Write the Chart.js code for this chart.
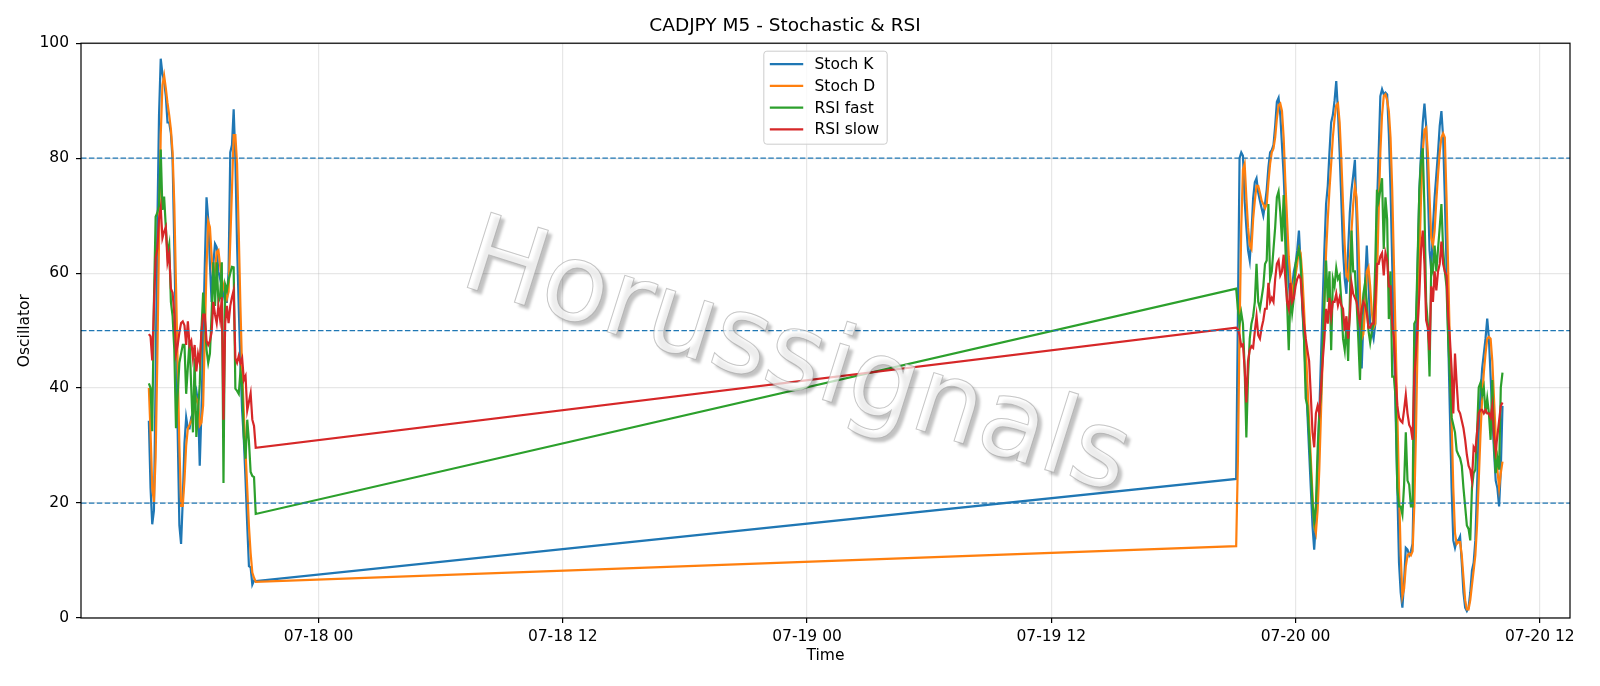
<!DOCTYPE html>
<html lang="en">
<head>
<meta charset="UTF-8">
<title>CADJPY M5 - Stochastic &amp; RSI</title>
<script src="https://cdn.jsdelivr.net/npm/chart.js@4.4.1/dist/chart.umd.min.js"></script>
<style>
  html, body { margin: 0; padding: 0; background: #fff; }
  #wrap { width: 1600px; height: 686px; }
</style>
</head>
<body>
<div id="wrap"><canvas id="chart"></canvas></div>
<script>
// time origin for the linear x axis: 07-18 00:00, x is in hours from here
const ORIGIN = Date.UTC(2025, 6, 18)
const HOUR = 3600000
const BAR_MIN = 5

const sessionStarts = ['2025-07-17T15:40:00Z', '2025-07-19T21:05:00Z']
const xTickTimes = ['2025-07-18T00:00:00Z', '2025-07-18T12:00:00Z', '2025-07-19T00:00:00Z',
  '2025-07-19T12:00:00Z', '2025-07-20T00:00:00Z', '2025-07-20T12:00:00Z']
const xRange = ['2025-07-17T12:20:00Z', '2025-07-20T13:29:00Z']
const yTicks = [0, 20, 40, 60, 80, 100]
const levels = [20, 50, 80]
const watermark = 'Horussignals'

// session 1 (07-17 15:40 .. 20:55)
const stochK1 = [34.3, 22.6, 16.3, 18.7, 42, 68, 87.5, 97.3, 94.7, 93.4, 90.8, 86.2, 86.2, 84.3, 79.7, 64.8,
  48.6, 32.3, 16.1, 12.9, 20.6, 30.4, 34.9, 33, 33, 34.9, 35.6, 38.2, 39.5, 37.5, 26.5, 36,
  48.6, 61.6, 73.2, 69.4, 61.6, 55, 61.6, 65.1, 64.5, 60.3, 59, 57.7, 56.4, 55, 55, 60.3,
  81, 82.3, 88.5, 80, 65, 54, 44, 36, 31, 24, 16.1, 9, 8.8, 5.8, 6.5, 6.4]
const stochD1 = [40, 32.3, 22.6, 20.2, 28, 45, 66, 84, 92.7, 94.4, 92.2, 89.6, 87.5, 85, 81, 72,
  58, 44, 30, 19.5, 19.5, 24, 30, 33, 33.6, 34.3, 35.2, 36.9, 38.2, 37.5, 33.5, 34,
  37, 49, 61, 69, 68, 63, 59, 60.5, 63.7, 64, 61.3, 59, 57.7, 56.4, 55.5, 56.8,
  65.5, 74.5, 84, 84, 79, 67, 54, 43, 35.6, 29, 22.6, 16, 11.3, 7.9, 7, 6.3]
const rsiFast1 = [40.8, 40, 32.5, 55, 69.8, 70.5, 71.7, 81.5, 71, 73.3, 68, 63.4, 65, 55, 52.5, 46.7,
  33, 39, 44.4, 46, 47.5, 47.5, 39, 43.7, 48.2, 40, 32.3, 45.2, 31.5, 36, 40.6, 50,
  56.6, 52, 46.7, 44.4, 46, 52.8, 61.9, 54.3, 61.9, 55, 55.8, 61.9, 23.5, 58, 57, 58.8,
  60, 61.1, 61, 39.9, 39.5, 39, 42.9, 40.6, 31.5, 27.7, 34.5, 30.8, 25.4, 24.7, 24.5, 18.1]
const rsiSlow1 = [49.4, 49, 44.8, 54.3, 62.6, 64.2, 69.5, 71.4, 66.1, 67.2, 68, 61.9, 63.4, 57.3, 56.6, 52.8,
  46, 47.5, 49.7, 51.3, 51.6, 50.9, 47.5, 51.6, 47.5, 48.2, 45.2, 47.5, 42.9, 45.9, 44.4, 49.7,
  52.8, 52.8, 48.2, 47.5, 48.2, 49.7, 55, 52.8, 51.3, 54.3, 52, 55.8, 34.5, 51.3, 54.3, 51.3,
  54.3, 55.8, 57, 45.2, 44.4, 45.6, 44.4, 45.2, 41.4, 42.1, 36.1, 37.6, 39.1, 34.5, 33.4, 29.6]

// session 2 (07-19 21:05 .. 07-20 10:10)
const stochK2 = [24.2, 52, 80, 81, 80.4, 72.6, 68, 64, 62.2, 66.8, 73, 75.8, 76.5, 74, 72.6, 71.3,
  70, 72, 74.5, 78.4, 81, 81.4, 82.3, 85.6, 89.8, 90.5, 87.5, 82.3, 77, 69.4, 64, 58.3,
  55, 57.7, 60.3, 61.6, 64, 67.4, 61.6, 53.8, 48.6, 42, 35.6, 29, 22.6, 16, 11.9, 16.8,
  25.8, 35.6, 45.3, 55, 64, 72, 75.2, 81, 86.2, 87.5, 90, 93.4, 88.2, 81, 72.6, 64,
  59, 56.4, 64, 70.6, 74.5, 77, 79.7, 69.4, 55, 47.3, 43.4, 51.8, 58.3, 64.8, 58.3, 51.2,
  49.9, 48.6, 51.2, 71.3, 81, 90.8, 92, 91.1, 91.4, 91.1, 84.3, 74.5, 61.6, 48.6, 35.6, 22.6,
  9.6, 4.4, 1.8, 6.4, 12.2, 11.9, 10.9, 11.6, 12.9, 29, 48.6, 61.6, 74.5, 81, 86.2, 89.5,
  85.6, 74.5, 64, 60.3, 68, 73.2, 77.1, 81, 85.6, 88.2, 83.6, 73.2, 61.6, 48.6, 35.6, 22.6,
  13.5, 12.2, 13.5, 13.5, 14.2, 9.6, 4.4, 1.8, 1.2, 1.8, 4.4, 8.3, 9.6, 13.5, 22.6, 32.3,
  38.8, 43.4, 46, 48.6, 52.1, 48.6, 42, 35.6, 29, 23.9, 22.6, 19.4, 25.8, 36.9]
const stochD2 = [12.5, 27, 50, 68, 78, 79, 73.2, 68, 64.8, 64.2, 69.4, 72.6, 75.2, 75.2, 74, 72.6,
  72, 71.3, 72, 75.8, 79, 81, 81.7, 83.6, 86.9, 89.2, 89.5, 88.2, 83.6, 75.8, 69.4, 62.9,
  59, 56.4, 58.3, 59.6, 61.6, 64.2, 63.5, 59.6, 53.8, 47.3, 40.8, 34.3, 27.8, 21.3, 16.1, 14.8,
  18.7, 25.8, 35.6, 45.3, 55, 63.5, 69.4, 74.5, 79, 83.6, 86.9, 89.2, 89.5, 86.2, 79.7, 72,
  64.8, 59.6, 59, 62.2, 67.4, 72, 75.2, 73.2, 66.1, 56.4, 48.6, 49.4, 53.8, 60.3, 61, 57.7,
  53.1, 50.5, 51.2, 59, 70.6, 81, 87.5, 90.8, 91.1, 90.1, 88.2, 83.6, 74.5, 61.6, 48.6, 35.6,
  22.6, 10.9, 3.8, 5.1, 9, 10.9, 11.2, 10.9, 11.6, 19.4, 32.3, 48.6, 62.9, 73.2, 81, 84.9,
  85.3, 81, 73.2, 66.1, 64.8, 67.4, 72.6, 77.1, 81, 83.6, 84.3, 83.6, 73.2, 60.3, 47.3, 34.3,
  22.6, 14.8, 12.9, 13.2, 13.2, 10.9, 7, 3.1, 1.5, 1.5, 3.1, 5.7, 8.3, 10.9, 16.1, 23.9,
  31.7, 38.2, 42.7, 46, 48.6, 48.9, 48.6, 44.7, 38.2, 31.7, 25.8, 22.6, 25.2, 27.2]
const rsiFast2 = [57.3, 53.8, 51.2, 53.1, 51.2, 43.4, 31.4, 42, 48.6, 51.2, 52.5, 55, 61.6, 55, 53.8, 55.7,
  57.7, 61.6, 62.2, 72, 59, 60.3, 64.2, 68, 73.2, 74.2, 70.6, 65.5, 73.6, 64.8, 55, 46.6,
  56.4, 53.1, 55.7, 61.6, 62.9, 64.2, 62.2, 55, 48.6, 38.2, 36.9, 31.7, 25.8, 20, 16.8, 19.4,
  29.1, 35.6, 38.8, 47.3, 55, 62.2, 55, 60.3, 46.6, 59, 57.7, 60.9, 59, 59.6, 55, 48.6,
  46.6, 51.2, 44.7, 55, 67.4, 60.3, 60.3, 55, 48.6, 41.4, 52.5, 56.4, 58.3, 55, 50, 47.9,
  49.9, 51.2, 61.6, 74.5, 72.6, 74.5, 76.5, 64.2, 73.2, 69.4, 52, 60.3, 42, 42, 38.2, 22.6,
  19.4, 19.4, 18, 23.2, 32.3, 23.9, 23.2, 19.4, 19.4, 51.2, 51.8, 62.9, 74.5, 79.7, 81.7, 71.3,
  55, 51.2, 42, 61.6, 60.3, 64.8, 60.3, 64.2, 68, 72, 64.2, 60.3, 57.7, 48.6, 42, 34.9,
  33.6, 32.3, 29.1, 28.4, 27.8, 26.5, 22.6, 19.4, 16.1, 15.5, 13.5, 22.6, 25.2, 25.8, 32.3, 40.1,
  40.9, 38.8, 40.1, 35.6, 38.2, 35.6, 31, 41.4, 30.4, 25.2, 27.8, 25.8, 40.1, 42.7]
const rsiSlow2 = [50.5, 50.2, 49.2, 47.3, 47.6, 43.4, 37.5, 44.7, 46.6, 47.3, 47, 49.9, 52.5, 49.2, 48.6, 50.5,
  51.8, 53.8, 53.8, 58.3, 55, 55.7, 55, 59, 61.6, 62.2, 59.6, 60.3, 63.2, 59, 55, 53.8,
  58.3, 55, 55.7, 57.7, 59, 59.6, 59, 55, 51.2, 48.6, 46.6, 44.7, 38.8, 32.3, 29.7, 35.6,
  36.9, 35.6, 40.1, 44.7, 48.6, 53.8, 51.2, 55.7, 52.5, 55, 55, 56.4, 54.4, 55.7, 54.4, 53.8,
  49.9, 52.5, 48.6, 52.5, 58.3, 56.4, 55.7, 55, 53.1, 51.2, 53.8, 55, 54.4, 53.1, 50.5, 50.5,
  51.2, 51.2, 55, 61.6, 61.6, 62.9, 63.5, 59.6, 63.5, 62.2, 57.7, 57.7, 51.2, 48.6, 42, 36.9,
  34.9, 34.3, 34, 36.2, 38.8, 35.6, 33.6, 33, 31, 42, 46, 51.2, 56.4, 64.2, 67.4, 61.6,
  51.8, 50.5, 46.6, 57.7, 55, 60.3, 57, 60.3, 61.6, 65.5, 61.6, 60.3, 59.6, 52.5, 48.6, 43.4,
  35.6, 46, 40.8, 36.2, 35.6, 34.3, 33, 31, 28.4, 26.5, 25.8, 23.9, 29.7, 29.1, 32.3, 35.6,
  36.2, 36.2, 35.6, 36.2, 35.6, 35.6, 34.9, 36.9, 31.7, 29.1, 31.7, 34.3, 36.9, 37.5]

const hoursOf = s => (Date.parse(s) - ORIGIN) / HOUR

// bar times of each session, one bar every 5 minutes
function barTimes(start, n) {
  const t0 = hoursOf(start)
  const out = []
  for (let i = 0; i < n; i++) out.push(t0 + i * BAR_MIN / 60)
  return out
}
const times = barTimes(sessionStarts[0], stochK1.length).concat(barTimes(sessionStarts[1], stochK2.length))

const toPoints = vals => vals.map((v, i) => ({ x: times[i], y: v }))

function fmtTick(v) {
  const d = new Date(ORIGIN + v * HOUR)
  const p = n => String(n).padStart(2, '0')
  return `${p(d.getUTCMonth() + 1)}-${p(d.getUTCDate())} ${p(d.getUTCHours())}`
}

const xMin = hoursOf(xRange[0])
const xMax = hoursOf(xRange[1])

const series = [
  { label: 'Stoch K', color: '#1f77b4', vals: stochK1.concat(stochK2), order: 4 },
  { label: 'Stoch D', color: '#ff7f0e', vals: stochD1.concat(stochD2), order: 3 },
  { label: 'RSI fast', color: '#2ca02c', vals: rsiFast1.concat(rsiFast2), order: 2 },
  { label: 'RSI slow', color: '#d62728', vals: rsiSlow1.concat(rsiSlow2), order: 1 },
]

const datasets = series.map(s => ({
  label: s.label,
  data: toPoints(s.vals),
  borderColor: s.color,
  borderWidth: 2.2,
  pointRadius: 0,
  tension: 0,
  order: s.order
}))
levels.forEach(l => datasets.push({
  label: 'level ' + l,
  data: [{ x: xMin, y: l }, { x: xMax, y: l }],
  borderColor: '#1f77b4',
  borderWidth: 1.3,
  borderDash: [5.5, 2.4],
  pointRadius: 0,
  order: 0
}))

// watermark over the lines, slanted down to the right
const stamp = {
  id: 'stamp',
  afterDatasetsDraw(chart) {
    const { ctx, chartArea: a } = chart
    ctx.save()
    ctx.translate(a.left + 0.48 * (a.right - a.left), a.top + 0.554 * (a.bottom - a.top))
    ctx.rotate(17.5 * Math.PI / 180)
    ctx.font = '108px "DejaVu Sans"'
    ctx.textAlign = 'center'
    ctx.textBaseline = 'middle'
    ctx.shadowColor = 'rgba(0,0,0,0.35)'
    ctx.shadowOffsetX = 4
    ctx.shadowOffsetY = 4
    ctx.shadowBlur = 3
    ctx.fillStyle = 'rgba(255,255,255,0.7)'
    ctx.fillText(watermark, 0, 0)
    ctx.shadowColor = 'transparent'
    ctx.strokeStyle = 'rgba(160,160,160,0.6)'
    ctx.lineWidth = 1
    ctx.strokeText(watermark, 0, 0)
    ctx.restore()
  }
}

// all four spines like matplotlib
const frame = {
  id: 'frame',
  afterDatasetsDraw(chart) {
    const { ctx, chartArea: a } = chart
    ctx.save()
    ctx.strokeStyle = '#000'
    ctx.lineWidth = 1.2
    ctx.strokeRect(a.left, a.top, a.right - a.left, a.bottom - a.top)
    ctx.restore()
  }
}

// legend box, upper center inside the axes
const legendBox = {
  id: 'legendBox',
  afterDraw(chart) {
    const { ctx, chartArea: a } = chart
    ctx.save()
    ctx.font = '15.5px "DejaVu Sans"'
    const textW = Math.max(...series.map(s => ctx.measureText(s.label).width))
    const rowH = 21.7
    const w = 50.7 + textW + 8
    const h = 93
    const x0 = (a.left + a.right) / 2 - w / 2
    const y0 = a.top + 8
    ctx.beginPath()
    ctx.roundRect(x0, y0, w, h, 3)
    ctx.fillStyle = 'rgba(255,255,255,0.8)'
    ctx.fill()
    ctx.strokeStyle = '#cccccc'
    ctx.lineWidth = 1
    ctx.stroke()
    ctx.textBaseline = 'middle'
    series.forEach((s, i) => {
      const y = y0 + 13 + i * rowH
      ctx.strokeStyle = s.color
      ctx.lineWidth = 2.2
      ctx.beginPath()
      ctx.moveTo(x0 + 6, y)
      ctx.lineTo(x0 + 39.4, y)
      ctx.stroke()
      ctx.fillStyle = '#000'
      ctx.fillText(s.label, x0 + 50.7, y + 1)
    })
    ctx.restore()
  }
}

Chart.defaults.font.family = "'DejaVu Sans', sans-serif"
Chart.defaults.color = '#000'

new Chart(document.getElementById('chart'), {
  type: 'line',
  data: { datasets },
  plugins: [stamp, frame, legendBox],
  options: {
    responsive: true,
    maintainAspectRatio: false,
    devicePixelRatio: 1,
    animation: false,
    layout: { padding: { top: 0, right: 30, bottom: 0, left: 0 } },
    plugins: {
      legend: { display: false },
      tooltip: { enabled: false },
      title: {
        display: true,
        text: 'CADJPY M5 - Stochastic & RSI',
        font: { size: 18.5, weight: 'normal' },
        color: '#000',
        padding: { top: 15, bottom: 6 }
      }
    },
    scales: {
      x: {
        type: 'linear',
        min: xMin,
        max: xMax,
        afterFit: s => { s.height = 68 },
        afterBuildTicks: s => { s.ticks = xTickTimes.map(t => ({ value: hoursOf(t) })) },
        ticks: {
          callback: v => fmtTick(v),
          autoSkip: false,
          maxRotation: 0,
          padding: 5,
          font: { size: 15.5 },
          color: '#000'
        },
        grid: { color: 'rgba(176,176,176,0.3)', lineWidth: 1.2, tickColor: '#000', tickLength: 5, tickWidth: 1.2 },
        border: { display: false },
        title: { display: true, text: 'Time', font: { size: 15.5 }, padding: { top: 0, bottom: 21 } }
      },
      y: {
        min: 0,
        max: 100,
        afterFit: s => { s.width = 81 },
        afterBuildTicks: s => { s.ticks = yTicks.map(v => ({ value: v })) },
        ticks: { padding: 7, font: { size: 15.5 }, color: '#000' },
        grid: { color: 'rgba(176,176,176,0.3)', lineWidth: 1.2, tickColor: '#000', tickLength: 5, tickWidth: 1.2 },
        border: { display: false },
        title: { display: true, text: 'Oscillator', font: { size: 15.5 }, padding: { top: 16, bottom: 0 } }
      }
    }
  }
})
</script>
</body>
</html>
